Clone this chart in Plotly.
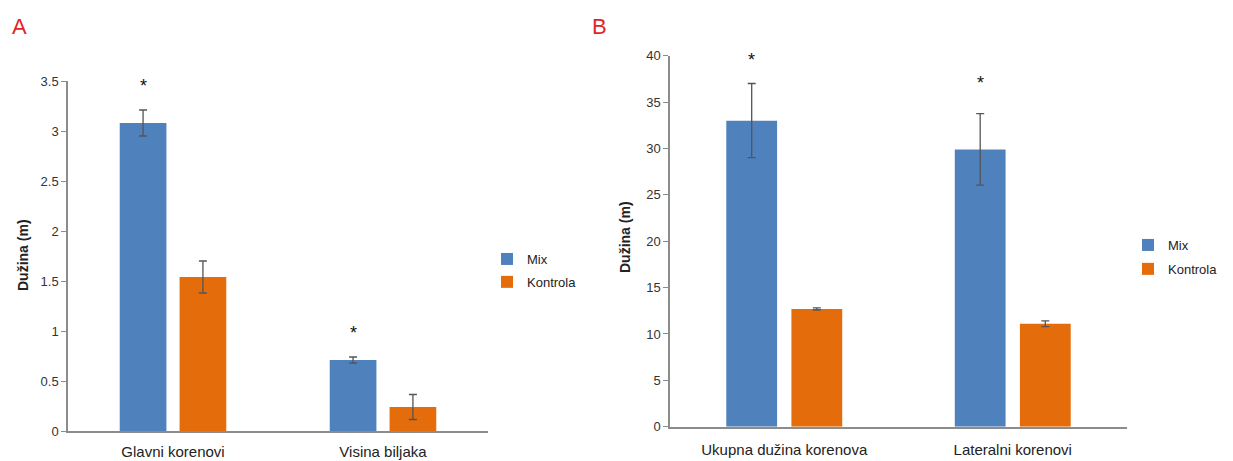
import plotly.graph_objects as go

# Panel A: main root length and plant height
cats_a = ["Glavni korenovi", "Visina biljaka"]
mix_a = [3.08, 0.71]
mix_a_err = [0.13, 0.03]
ctrl_a = [1.54, 0.24]
ctrl_a_err = [0.16, 0.125]

# Panel B: total root length and lateral roots
cats_b = ["Ukupna dužina korenova", "Lateralni korenovi"]
mix_b = [33.0, 29.9]
mix_b_err = [4.0, 3.85]
ctrl_b = [12.7, 11.1]
ctrl_b_err = [0.12, 0.3]

series_names = ["Mix", "Kontrola"]
BLUE = "#4f81bd"
ORANGE = "#e46c0a"
ERR = "#555555"
FONT = "Liberation Sans, Arial, Helvetica, sans-serif"

W, H = 1233, 461
BARGAP = 0.43
BARGROUPGAP = 0.22
# vertical gap (px) between each error-bar top and its significance star
STAR_GAP_A = [12, 12]
STAR_GAP_B = [12, 19]


def px_x(p):
    return p / W


def px_y(p):
    return 1 - p / H


fig = go.Figure()


def add_bars(cats, mix, mix_err, ctrl, ctrl_err, xa, ya, legend):
    for name, vals, errs, col in [
        (series_names[0], mix, mix_err, BLUE),
        (series_names[1], ctrl, ctrl_err, ORANGE),
    ]:
        fig.add_trace(go.Bar(
            x=cats, y=vals, name=name, marker=dict(color=col, line=dict(width=0)),
            error_y=dict(type="data", array=errs, color=ERR, thickness=1.3, width=4),
            xaxis=xa, yaxis=ya, legend=legend, offsetgroup=name,
            legendgroup=legend + name,
        ))


add_bars(cats_a, mix_a, mix_a_err, ctrl_a, ctrl_a_err, "x", "y", "legend")
add_bars(cats_b, mix_b, mix_b_err, ctrl_b, ctrl_b_err, "x2", "y2", "legend2")

axis_line = dict(showline=True, linecolor="#8c8c8c", linewidth=1.5, showgrid=False,
                 zeroline=False, automargin=False)
tick_font = dict(family=FONT, size=13, color="#333333")
cat_font = dict(family=FONT, size=15, color="#222222")
legend_font = dict(family=FONT, size=13, color="#222222")

fig.update_layout(
    width=W, height=H,
    margin=dict(l=0, r=0, t=0, b=0, pad=0, autoexpand=False),
    paper_bgcolor="white", plot_bgcolor="white",
    barmode="group", bargap=BARGAP, bargroupgap=BARGROUPGAP,
    font=dict(family=FONT, color="#222222"),
    xaxis=dict(domain=[px_x(68), px_x(488)], anchor="y", tickfont=cat_font,
               ticks="outside", ticklen=6, tickcolor="rgba(0,0,0,0)", **axis_line),
    yaxis=dict(domain=[px_y(431), px_y(81)], anchor="x", range=[0, 3.5], dtick=0.5,
               tickfont=tick_font, ticks="outside", ticklen=5, tickcolor="#8c8c8c",
               tickformat="~g", **axis_line),
    xaxis2=dict(domain=[px_x(670), px_x(1127)], anchor="y2", tickfont=cat_font,
                ticks="outside", ticklen=9, tickcolor="rgba(0,0,0,0)", **axis_line),
    yaxis2=dict(domain=[px_y(426.7), px_y(55.7)], anchor="x2", range=[0, 40], dtick=5,
                tickfont=tick_font, ticks="outside", ticklen=5, tickcolor="#8c8c8c",
                **axis_line),
    legend=dict(x=px_x(487), y=px_y(244), xanchor="left", yanchor="top",
                font=legend_font, tracegroupgap=3, bgcolor="rgba(0,0,0,0)"),
    legend2=dict(x=px_x(1128), y=px_y(230), xanchor="left", yanchor="top",
                 font=legend_font, tracegroupgap=4, bgcolor="rgba(0,0,0,0)"),
)

annotations = []
# Significance stars above the Mix bars
mix_offset = (1 - BARGAP) / 4
for xr, yr, mix, err, gaps in [("x", "y", mix_a, mix_a_err, STAR_GAP_A),
                               ("x2", "y2", mix_b, mix_b_err, STAR_GAP_B)]:
    for i, (v, e) in enumerate(zip(mix, err)):
        annotations.append(dict(
            x=i - mix_offset, y=v + e, xref=xr, yref=yr, text="*", showarrow=False,
            yanchor="bottom", yshift=gaps[i],
            font=dict(family=FONT, size=18, color="#111111"),
        ))

# Y-axis titles
for xp, yp in [(23, 255), (625, 237)]:
    annotations.append(dict(
        x=px_x(xp), y=px_y(yp), xref="paper", yref="paper", text="<b>Dužina (m)</b>",
        textangle=-90, showarrow=False, xanchor="center", yanchor="middle",
        font=dict(family=FONT, size=14, color="#222222"),
    ))

# Panel letters
for letter, xp in [("A", 10), ("B", 590)]:
    annotations.append(dict(
        x=px_x(xp), y=px_y(27), xref="paper", yref="paper", text=letter,
        showarrow=False, xanchor="left", yanchor="middle",
        font=dict(family=FONT, size=22, color="#e3242b"),
    ))

fig.update_layout(annotations=annotations)

fig.write_html("out.html")
